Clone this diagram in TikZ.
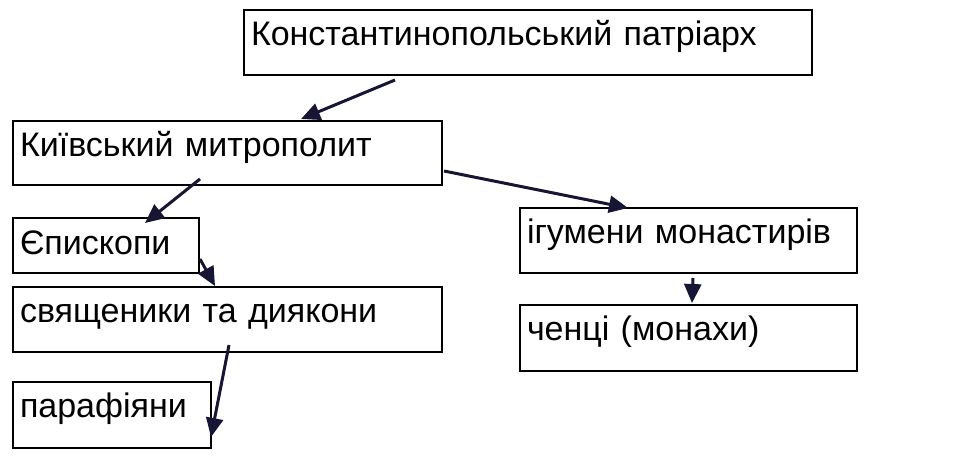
\documentclass[tikz,border=0pt]{standalone}
\usepackage{fontspec}
\setmainfont{Liberation Sans}
\usetikzlibrary{arrows.meta}
\definecolor{arrowc}{RGB}{22,22,52}
\begin{document}
\begin{tikzpicture}[x=1pt,y=-1pt,
 box/.style={draw=black, line width=2pt, anchor=north west, inner xsep=7pt, inner ysep=0pt,
   text height=35pt, align=left, font=\fontsize{34}{34}\selectfont},
 link/.style={draw=arrowc, line width=3pt, -{Triangle[length=19pt,width=17pt]}}]
\useasboundingbox (0,0) rectangle (953,456);
\node[box, text width=554pt, text depth=30pt] (A) at (243,9) {Константинопольський патріарх};
\node[box, text width=415pt, text depth=29pt] (B) at (12,120) {Київський митрополит};
\node[box, text height=36pt, text width=172pt, text depth=19pt] (C) at (12,217) {Єпископи};
\node[box, text width=415pt, text depth=30pt] (D) at (12,286) {священики та диякони};
\node[box, text width=184pt, text depth=31pt] (E) at (12,381) {парафіяни};
\node[box, text width=323pt, text depth=30pt] (F) at (519,207) {ігумени монастирів};
\node[box, text width=323pt, text depth=31pt] (G) at (519,304) {ченці (монахи)};
\draw[link] ([shift={(152,4)}]A.south west) -- ([shift={(289,-1)}]B.north west);
\draw[link] ([shift={(188,-7)}]B.south west) -- ([shift={(133,6)}]C.north west);
\draw[link] ([shift={(0,-15)}]C.south east) -- ([shift={(203,0)}]D.north west);
\draw[link] ([shift={(217,-8)}]D.south west) -- ([shift={(-1,-12)}]E.south east);
\draw[link] ([shift={(1,-15)}]B.south east) -- ([shift={(109,1)}]F.north west);
\draw[link] ([shift={(174,4)}]F.south west) -- ([shift={(173,-1)}]G.north west);
\end{tikzpicture}
\end{document}
